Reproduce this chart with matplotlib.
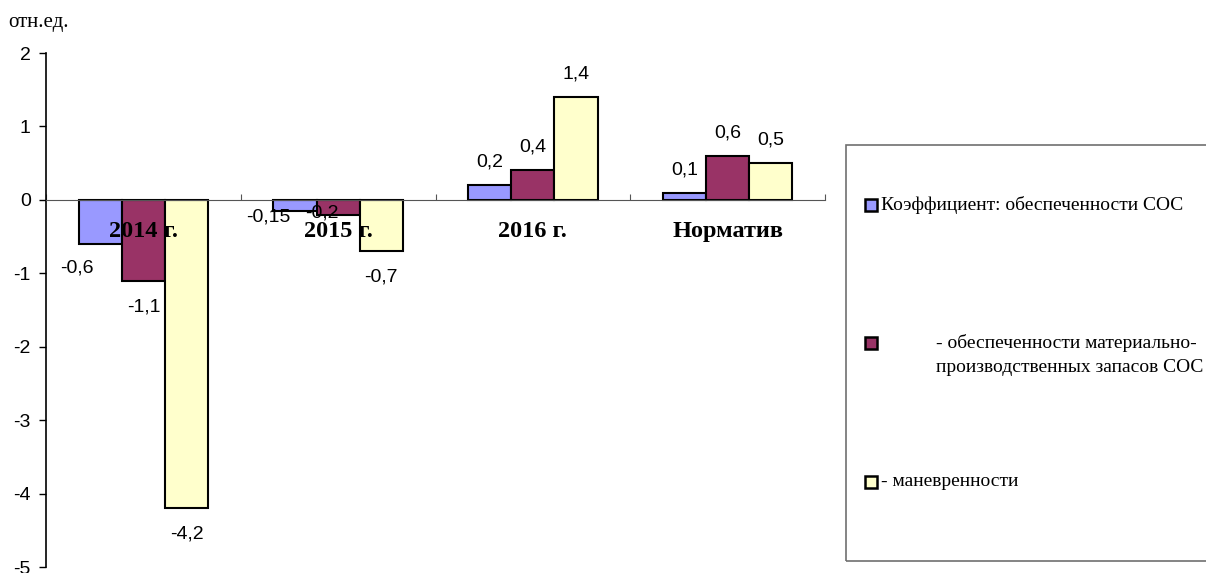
import matplotlib
matplotlib.use('Agg')
import matplotlib.pyplot as plt
from matplotlib.patches import Rectangle
import numpy as np

categories = ["2014 г.", "2015 г.", "2016 г.", "Норматив"]
sos = [-0.6, -0.15, 0.2, 0.1]
mpz = [-1.1, -0.2, 0.4, 0.6]
manevr = [-4.2, -0.7, 1.4, 0.5]
value_labels = [["-0,6", "-0,15", "0,2", "0,1"],
                ["-1,1", "-0,2", "0,4", "0,6"],
                ["-4,2", "-0,7", "1,4", "0,5"]]
series_names = ["Коэффициент: обеспеченности СОС",
                "- обеспеченности материально-\nпроизводственных запасов СОС",
                "- маневренности"]
colors = ["#9999FF", "#993366", "#FFFFCC"]
yticks = [2, 1, 0, -1, -2, -3, -4, -5]

W, H = 1206, 573
PX = 0.72  # points per pixel at 100 dpi
fig = plt.figure(figsize=(W / 100, H / 100), dpi=100)
ax = fig.add_axes([46 / W, 1 - 567 / H, (825 - 46) / W, (567 - 53) / H])

# label nudges in pixels, keyed (series, category), where Excel shifted labels
nudge = {(0, 0): (-23, -24), (0, 1): (-27, -6), (1, 1): (-16, 2)}

x = np.arange(len(categories))
bw = 0.222
series = [sos, mpz, manevr]
for i, vals in enumerate(series):
    pos = x + (i - 1) * bw
    ax.bar(pos, vals, bw, color=colors[i], edgecolor="black", linewidth=1.5, zorder=2)
    for j, v in enumerate(vals):
        dx, dy = nudge.get((i, j), (0, 23 if v > 0 else -26))
        ax.annotate(value_labels[i][j], (pos[j], v), xytext=(dx * PX, dy * PX),
                    textcoords="offset points", ha="center", va="center",
                    fontsize=14, family="Liberation Sans", zorder=4)

ax.set_xlim(-0.5, 3.5)
ax.set_ylim(-5, 2)
ax.set_yticks(yticks)
ax.set_yticklabels([str(t) for t in yticks], family="Liberation Sans", fontsize=14)
ax.tick_params(axis="y", direction="out", length=5, width=1, pad=6)

for s in ["top", "right"]:
    ax.spines[s].set_visible(False)
ax.spines["left"].set_linewidth(1.2)
ax.spines["bottom"].set_position(("data", 0))
ax.spines["bottom"].set_color("#555555")
ax.spines["bottom"].set_zorder(3)
ax.set_xticks(np.arange(-0.5, 4, 1))
ax.set_xticklabels([])
ax.tick_params(axis="x", direction="in", length=4, color="#555555")

for j, c in enumerate(categories):
    ax.annotate(c, (x[j], 0), xytext=(0, -32 * PX), textcoords="offset points",
                ha="center", va="center", fontsize=17.5, fontweight="bold",
                family="Liberation Serif", zorder=5)

fig.text(8 / W, 1 - 22 / H, "отн.ед.", family="Liberation Serif", fontsize=15,
         ha="left", va="center")

# legend drawn by hand
fig.patches.append(Rectangle((846 / W, 1 - 561 / H), (W + 10 - 846) / W, (561 - 145) / H,
                             transform=fig.transFigure, fill=False,
                             edgecolor="#707070", linewidth=1.2))
leg_y = [205, 343, 482]
text_x = [881, 936, 881]
for i in range(3):
    fig.patches.append(Rectangle((865 / W, 1 - (leg_y[i] + 6) / H), 12 / W, 12 / H,
                                 transform=fig.transFigure, facecolor=colors[i],
                                 edgecolor="black", linewidth=1.8))
    for k, line in enumerate(series_names[i].split("\n")):
        fig.text(text_x[i] / W, 1 - (leg_y[i] + 24 * k) / H, line,
                 family="Liberation Serif", fontsize=14, ha="left", va="center")

fig.savefig("out.png", dpi=100)
